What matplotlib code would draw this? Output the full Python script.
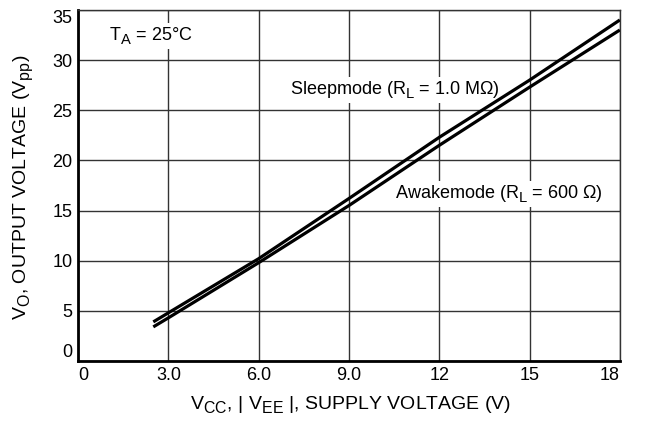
import matplotlib
matplotlib.use("Agg")
import matplotlib.pyplot as plt
try:
    import matplotlib._mathtext as _mt
    _mt.SHRINK_FACTOR = 0.82
    _mt.FontConstantsBase.sub1 = 0.45
    _mt.FontConstantsBase.sub2 = 0.6
except Exception:
    pass

plt.rcParams['font.family'] = ['Liberation Sans', 'DejaVu Sans']
plt.rcParams['mathtext.fontset'] = 'custom'
plt.rcParams['mathtext.rm'] = 'Liberation Sans'
plt.rcParams['mathtext.it'] = 'Liberation Sans'
plt.rcParams['mathtext.default'] = 'rm'

# Data
supply_v = [2.5, 3.0, 6.0, 9.0, 12.0, 15.0, 18.0]
sleep_vo = [3.9, 4.8, 10.2, 16.2, 22.3, 28.0, 34.0]
awake_vo = [3.4, 4.3, 9.8, 15.5, 21.5, 27.3, 33.0]

x_ticks = [0, 3, 6, 9, 12, 15, 18]
x_tick_labels = ["0", "3.0", "6.0", "9.0", "12", "15", "18"]
y_ticks = [0, 5, 10, 15, 20, 25, 30, 35]
y_tick_labels = ["0", "5", "10", "15", "20", "25", "30", "35"]

FS = 13
LFS = 14

fig = plt.figure(figsize=(6.45, 4.25), dpi=100)
ax = fig.add_axes([0.121, 0.1506, 0.840, 0.826])

ax.plot(supply_v, sleep_vo, color='black', lw=2.3, solid_capstyle='butt', zorder=5)
ax.plot(supply_v, awake_vo, color='black', lw=2.3, solid_capstyle='butt', zorder=5)

ax.set_xlim(0, 18)
ax.set_ylim(0, 35)
ax.set_xticks(x_ticks)
ax.set_xticklabels(x_tick_labels)
ax.set_yticks(y_ticks)
ax.set_yticklabels(y_tick_labels)
ax.tick_params(length=0, labelsize=FS, pad=4)
xl = ax.get_xticklabels()
xl[0].set_ha('left')
xl[-1].set_ha('right')
yl = ax.get_yticklabels()
yl[0].set_va('bottom')
yl[-1].set_va('top')
ax.grid(True, color='#333333', lw=1.0)
ax.set_axisbelow(True)

for s in ['left', 'bottom']:
    ax.spines[s].set_linewidth(2.0)
    ax.spines[s].set_color('black')
for s in ['top', 'right']:
    ax.spines[s].set_linewidth(1.0)
    ax.spines[s].set_color('#333333')

box = dict(facecolor='white', edgecolor='none', pad=1.5)
ax.text(1.03, 32.0, r'T$_\mathrm{A}$ = 25°C', fontsize=FS, va='baseline', ha='left',
        bbox=box, zorder=4)
ax.text(7.04, 26.6, r'Sleepmode (R$_\mathrm{L}$ = 1.0 M$\Omega$)', fontsize=FS,
        va='baseline', ha='left', bbox=box, zorder=4)
ax.text(10.53, 16.25, r'Awakemode (R$_\mathrm{L}$ = 600 $\Omega$)', fontsize=FS,
        va='baseline', ha='left', bbox=box, zorder=4)

fig.text(351 / 645, 1 - 410 / 425,
         r'V$_\mathrm{CC}$, | V$_\mathrm{EE}$ |, SUPPLY VOLTAGE (V)',
         fontsize=LFS, ha='center', va='baseline')
fig.text(24 / 645, 1 - 187 / 425,
         r'V$_\mathrm{O}$, OUTPUT VOLTAGE (V$_\mathrm{pp}$)',
         fontsize=LFS, ha='center', va='center', rotation=90)

fig.savefig('out.png', dpi=100)
